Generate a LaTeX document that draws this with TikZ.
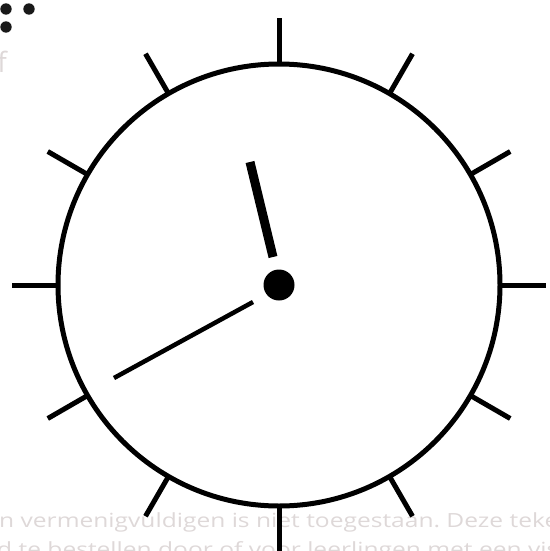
\documentclass[tikz,border=0pt]{standalone}
\usepackage{fontspec}
\usepackage{graphicx}
\setmainfont{Open Sans}
\frenchspacing
\definecolor{faint}{RGB}{222,216,216}
\newcommand{\breed}[1]{\scalebox{1.26}[1]{#1}}
\tikzset{
  rim/.style={line width=5pt},
  faint text/.style={anchor=base west,inner sep=0pt,text=faint,font=\fontsize{19.5}{24}\selectfont}
}
\begin{document}
\begin{tikzpicture}[x=1pt,y=-1pt]
\useasboundingbox (0,0) rectangle (549,551);
\clip (0,0) rectangle (549,551);
% faint text behind the clock
\node[faint text] (regel1) at (-1,527) {\breed{n vermenigvuldigen is niet toegestaan. Deze teke}};
\node[faint text] (regel2) at (-3,556) {\breed{d te bestellen door of voor leerlingen met een vis}};
\node[faint text,anchor=base east,font=\fontsize{28}{30}\selectfont] (letter) at (7,72) {f};
% braille dots
\foreach \x/\y in {6/9,29/9,6/27}
  \fill[black!90] (\x,\y) circle (5.7);
% clock face
\coordinate (c) at (279,285);
\draw[rim] (c) circle (221);
\foreach \a in {0,30,...,330}
  \draw[rim] ([shift={(\a:221)}]c) -- ([shift={(\a:267)}]c);
% hands
\coordinate (uur1) at (273,257);
\coordinate (uur2) at (250,162);
\coordinate (min1) at (253,302);
\coordinate (min2) at (114,378);
\draw[line width=9pt] (uur1) -- (uur2);
\draw[line width=4.5pt] (min1) -- (min2);
\fill (c) circle (15.5);
\end{tikzpicture}
\end{document}
